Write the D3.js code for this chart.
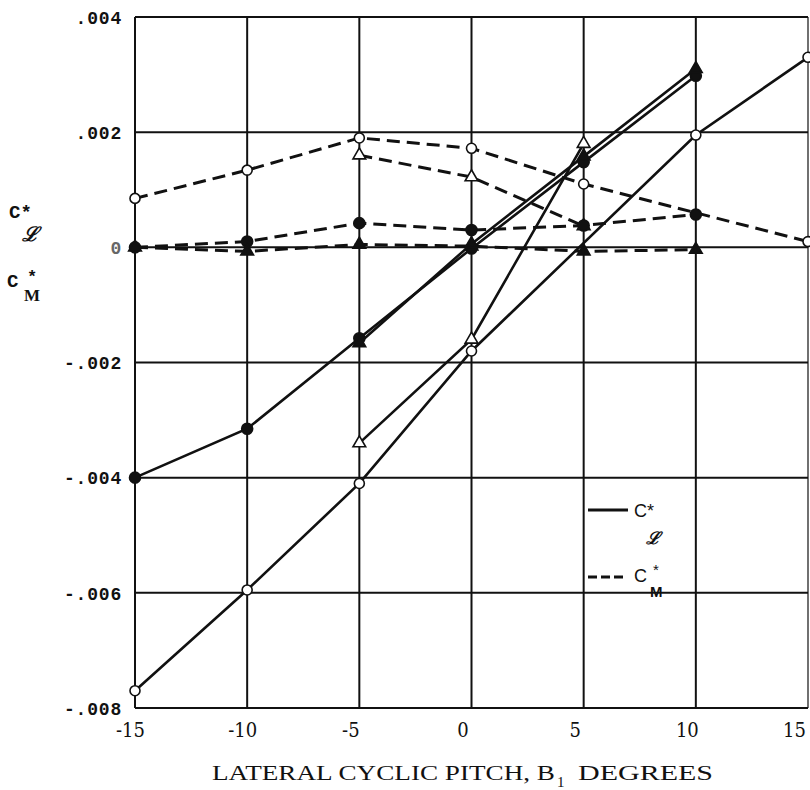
<!DOCTYPE html>
<html>
<head>
<meta charset="utf-8">
<script src="https://cdn.jsdelivr.net/npm/d3@7"></script>
<style>
  html, body { margin: 0; padding: 0; background: #fff; }
  svg { display: block; }
</style>
</head>
<body>
<svg id="chart" width="810" height="790"></svg>
<script>
// ---------- data ----------
const xTicks = [-15, -10, -5, 0, 5, 10, 15];
const xTickLabels = ["-15", "-10", "-5", "0", "5", "10", "15"];
const yTicks = [0.004, 0.002, 0, -0.002, -0.004, -0.006, -0.008];
const yTickLabels = [".004", ".002", "0", "-.002", "-.004", "-.006", "-.008"];

// C*_L (solid lines)
const clOpenCircleX = [-15, -10, -5, 0, 10, 15];
const clOpenCircleY = [-0.0077, -0.00595, -0.0041, -0.0018, 0.00195, 0.0033];
const clOpenTriX = [-5, 0, 5];
const clOpenTriY = [-0.0034, -0.0016, 0.0018];
const clFilledCircleX = [-15, -10, -5, 0, 5, 10];
const clFilledCircleY = [-0.0040, -0.00315, -0.00158, -0.00002, 0.00148, 0.00298];
const clFilledTriX = [-5, 0, 5, 10];
const clFilledTriY = [-0.00166, 0.00006, 0.00158, 0.0031];

// C*_M (dashed lines)
const cmOpenCircleX = [-15, -10, -5, 0, 5, 15];
const cmOpenCircleY = [0.00085, 0.00134, 0.0019, 0.00172, 0.0011, 0.0001];
const cmOpenTriX = [-5, 0, 5];
const cmOpenTriY = [0.0016, 0.00122, 0.00037];
const cmFilledCircleX = [-15, -10, -5, 0, 5, 10];
const cmFilledCircleY = [0, 0.0001, 0.00042, 0.0003, 0.00038, 0.00057];
const cmFilledTriX = [-15, -10, -5, 0, 5, 10];
const cmFilledTriY = [0, -0.00007, 0.00005, 0.00002, -0.00007, -0.00004];

const legendLabels = ["C*", "C*"];

// ---------- layout ----------
const svg = d3.select("#chart");
const pLeft = 135, pRight = 808, pTop = 17, pBottom = 708;
const x = d3.scaleLinear().domain([-15, 15]).range([pLeft, pRight]);
const y = d3.scaleLinear().domain([-0.008, 0.004]).range([pBottom, pTop]);
const ink = "#111";

// grid
const grid = svg.append("g");
grid.selectAll("line.v").data(xTicks).enter().append("line")
  .attr("x1", d => x(d)).attr("x2", d => x(d))
  .attr("y1", pTop).attr("y2", pBottom)
  .attr("stroke", ink).attr("stroke-width", d => (d === 15 ? 1.2 : 2));
grid.selectAll("line.h").data(yTicks).enter().append("line")
  .attr("x1", pLeft).attr("x2", pRight)
  .attr("y1", d => y(d)).attr("y2", d => y(d))
  .attr("stroke", ink).attr("stroke-width", 2);

// axes labels (via d3 axes)
const yAxis = d3.axisLeft(y).tickValues(yTicks)
  .tickFormat((d, i) => yTickLabels[i]).tickSize(0).tickPadding(13);
const gy = svg.append("g").attr("transform", `translate(${pLeft},0)`).call(yAxis);
gy.select(".domain").remove();
gy.selectAll("text")
  .attr("font-family", "'Liberation Mono', 'DejaVu Sans Mono', monospace")
  .attr("font-weight", "bold")
  .attr("font-size", 18)
  .attr("letter-spacing", 0.8)
  .attr("fill", (d) => d === 0 ? "#666" : ink)
  .attr("dy", "0.35em");

const xAxis = d3.axisBottom(x).tickValues(xTicks)
  .tickFormat((d, i) => xTickLabels[i]).tickSize(0).tickPadding(15);
const gx = svg.append("g").attr("transform", `translate(0,${pBottom})`).call(xAxis);
gx.select(".domain").remove();
gx.selectAll("text")
  .attr("font-family", "'DejaVu Serif Condensed', 'Liberation Serif', serif")
  .attr("font-size", 20)
  .attr("fill", ink)
  .attr("dx", d => (d === 15 ? -14 : d <= -10 ? -5 : -9));

// x-axis title
const titleFont = "'Liberation Serif', 'DejaVu Serif', serif";
svg.append("text").attr("x", 212).attr("y", 780)
  .attr("font-family", titleFont).attr("font-size", 20).attr("fill", ink)
  .attr("textLength", 343).attr("lengthAdjust", "spacingAndGlyphs")
  .text("LATERAL CYCLIC PITCH, B");
svg.append("text").attr("x", 557).attr("y", 787)
  .attr("font-family", titleFont).attr("font-size", 15).attr("fill", ink)
  .text("1");
svg.append("text").attr("x", 578).attr("y", 780)
  .attr("font-family", titleFont).attr("font-size", 20).attr("fill", ink)
  .attr("textLength", 135).attr("lengthAdjust", "spacingAndGlyphs")
  .text("DEGREES");

// y-axis title
const labFont = "'Liberation Mono', 'DejaVu Sans Mono', monospace";
svg.append("text").attr("x", 9).attr("y", 218)
  .attr("font-family", labFont).attr("font-weight", "bold").attr("font-size", 19).attr("fill", ink)
  .text("C*");
svg.append("text").attr("x", 22).attr("y", 241)
  .attr("font-family", "'DejaVu Serif', serif").attr("font-weight", "bold").attr("font-style", "italic")
  .attr("font-size", 20).attr("fill", ink).text("ℒ");
svg.append("text").attr("x", 7).attr("y", 287)
  .attr("font-family", labFont).attr("font-weight", "bold").attr("font-size", 19).attr("fill", ink)
  .text("C");
svg.append("text").attr("x", 27).attr("y", 282)
  .attr("font-family", labFont).attr("font-weight", "bold").attr("font-size", 17).attr("fill", ink)
  .text("*");
svg.append("text").attr("x", 24).attr("y", 301)
  .attr("font-family", "'Liberation Serif', serif").attr("font-weight", "bold").attr("font-size", 17).attr("fill", ink)
  .text("M");

// ---------- series ----------
const series = [
  { xs: cmOpenCircleX, ys: cmOpenCircleY, dash: true, shape: "circle", filled: false },
  { xs: cmOpenTriX, ys: cmOpenTriY, dash: true, shape: "tri", filled: false },
  { xs: cmFilledCircleX, ys: cmFilledCircleY, dash: true, shape: "circle", filled: true },
  { xs: cmFilledTriX, ys: cmFilledTriY, dash: true, shape: "tri", filled: true },
  { xs: clOpenCircleX, ys: clOpenCircleY, dash: false, shape: "circle", filled: false },
  { xs: clOpenTriX, ys: clOpenTriY, dash: false, shape: "tri", filled: false },
  { xs: clFilledCircleX, ys: clFilledCircleY, dash: false, shape: "circle", filled: true },
  { xs: clFilledTriX, ys: clFilledTriY, dash: false, shape: "tri", filled: true }
];

const line = d3.line().x(d => x(d[0])).y(d => y(d[1]));
const gl = svg.append("g");
series.forEach(s => {
  const pts = s.xs.map((v, i) => [v, s.ys[i]]);
  gl.append("path").datum(pts)
    .attr("d", line)
    .attr("fill", "none")
    .attr("stroke", ink)
    .attr("stroke-width", s.dash ? 3 : 2.6)
    .attr("stroke-dasharray", s.dash ? "13,7" : null);
});

const gm = svg.append("g");
const triSym = d3.symbol().type(d3.symbolTriangle).size(70);
series.forEach(s => {
  const pts = s.xs.map((v, i) => [v, s.ys[i]]);
  if (s.shape === "circle") {
    gm.selectAll(null).data(pts).enter().append("circle")
      .attr("cx", d => x(d[0])).attr("cy", d => y(d[1]))
      .attr("r", s.filled ? 5.5 : 5)
      .attr("fill", s.filled ? ink : "#fff")
      .attr("stroke", ink).attr("stroke-width", 1.6);
  } else {
    gm.selectAll(null).data(pts).enter().append("path")
      .attr("transform", d => `translate(${x(d[0])},${y(d[1])})`)
      .attr("d", triSym)
      .attr("fill", s.filled ? ink : "#fff")
      .attr("stroke", ink).attr("stroke-width", 1.6);
  }
});

// ---------- legend ----------
const lg = svg.append("g");
lg.append("line").attr("x1", 588).attr("x2", 628).attr("y1", 510).attr("y2", 510)
  .attr("stroke", ink).attr("stroke-width", 3);
lg.append("line").attr("x1", 588).attr("x2", 624).attr("y1", 577).attr("y2", 577)
  .attr("stroke", ink).attr("stroke-width", 3).attr("stroke-dasharray", "9,4");
const legFont = "'Liberation Sans', Arial, sans-serif";
lg.append("text").attr("x", 634).attr("y", 517)
  .attr("font-family", legFont).attr("font-size", 18).attr("fill", ink).text(legendLabels[0]);
lg.append("text").attr("x", 646).attr("y", 544)
  .attr("font-family", "'DejaVu Serif', serif").attr("font-weight", "bold").attr("font-style", "italic")
  .attr("font-size", 17).attr("fill", ink).text("ℒ");
lg.append("text").attr("x", 634).attr("y", 582)
  .attr("font-family", legFont).attr("font-size", 18).attr("fill", ink).text("C");
lg.append("text").attr("x", 653).attr("y", 575)
  .attr("font-family", legFont).attr("font-size", 15).attr("fill", ink).text("*");
lg.append("text").attr("x", 650).attr("y", 597)
  .attr("font-family", legFont).attr("font-size", 15).attr("font-weight", "bold").attr("fill", ink).text("M");
</script>
</body>
</html>
